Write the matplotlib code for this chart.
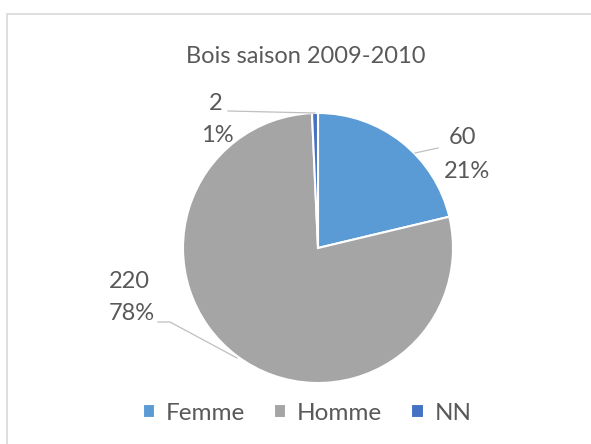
import matplotlib.pyplot as plt
import numpy as np

# data
categories = ["Femme", "Homme", "NN"]
counts = [60, 220, 2]
colors = ["#5B9BD5", "#A5A5A5", "#4472C4"]
title = "Bois saison 2009-2010"

plt.rcParams['font.family'] = ['Lato', 'DejaVu Sans']
txt = "#595959"
H = 444

fig = plt.figure(figsize=(5.91, 4.44), dpi=100)
ax = fig.add_axes([0, 0, 1, 1])

# chart border
ax.add_patch(plt.Rectangle((7, -10), 600, H - 14 + 10, fill=False,
                           edgecolor="#D9D9D9", linewidth=1.2))

cx, cy, r = 318, H - 248, 135
wedges, _ = ax.pie(counts, colors=colors, startangle=90, counterclock=False,
                   center=(cx, cy), radius=r, frame=True,
                   wedgeprops=dict(edgecolor="white", linewidth=1.5))
ax.set_xlim(0, 591)
ax.set_ylim(0, H)
ax.set_aspect('equal')
ax.axis('off')

ax.text(306, H - 57, title, ha="center", va="center", fontsize=17, color=txt)

total = sum(counts)
pct = [f"{round(100 * c / total)}%" for c in counts]

# data labels (value on top, percent below) with leader lines, pixel layout
value_pos = [(463, 138), (129, 282), (216, 103)]
pct_pos = [(467, 172), (132, 313), (217, 135)]
leaders = [
    [(415, 153), (438, 148)],
    [(158, 322), (170, 322), (237, 358)],
    [(228, 111), (315, 113)],
]
for c, p, vp, pp, ln in zip(counts, pct, value_pos, pct_pos, leaders):
    ax.text(vp[0], H - vp[1], str(c), ha="center", va="center", fontsize=17, color=txt)
    ax.text(pp[0], H - pp[1], p, ha="center", va="center", fontsize=17, color=txt)
    xs = [q[0] for q in ln]
    ys = [H - q[1] for q in ln]
    ax.plot(xs, ys, color="#BFBFBF", linewidth=0.9)

ax.legend(wedges, categories, loc="center", bbox_to_anchor=(307 / 591, 1 - 413 / H),
          ncol=3, frameon=False, fontsize=17.5, labelcolor=txt,
          handlelength=0.5, handleheight=0.5, handletextpad=0.45, columnspacing=1.2)

fig.savefig("out.png", dpi=100)
